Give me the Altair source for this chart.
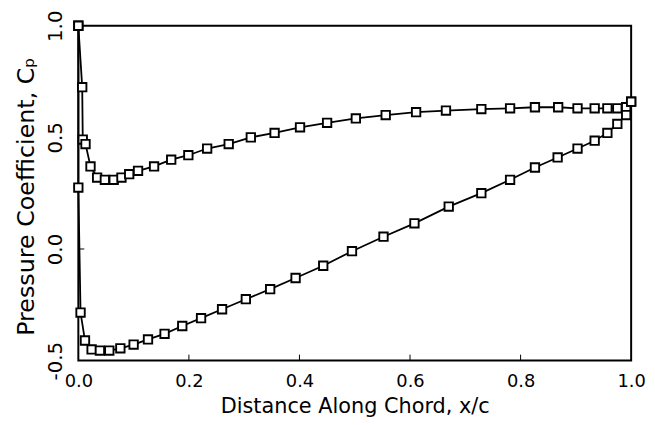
import altair as alt
import pandas as pd

# Upper curve (x/c, Cp)
upper_x = [0.0, 0.007, 0.008, 0.013, 0.022, 0.034, 0.048, 0.064, 0.078, 0.092, 0.108,
           0.137, 0.168, 0.199, 0.233, 0.272, 0.312, 0.355, 0.401, 0.450, 0.502,
           0.556, 0.611, 0.665, 0.729, 0.781, 0.826, 0.868, 0.903, 0.934, 0.957,
           0.975, 0.991, 1.0]
upper_cp = [1.0, 0.725, 0.49, 0.47, 0.37, 0.32, 0.31, 0.31, 0.32, 0.335, 0.35,
            0.37, 0.40, 0.42, 0.45, 0.47, 0.50, 0.52, 0.545, 0.565, 0.585,
            0.60, 0.613, 0.62, 0.627, 0.63, 0.635, 0.635, 0.63, 0.63, 0.63,
            0.63, 0.635, 0.66]

# Lower curve (x/c, Cp)
lower_x = [0.0, 0.0, 0.004, 0.012, 0.024, 0.039, 0.056, 0.076, 0.100, 0.126, 0.156,
           0.188, 0.222, 0.260, 0.303, 0.347, 0.393, 0.443, 0.495, 0.552, 0.608,
           0.670, 0.729, 0.781, 0.826, 0.867, 0.903, 0.934, 0.957, 0.975, 0.991, 1.0]
lower_cp = [1.0, 0.275, -0.285, -0.41, -0.45, -0.455, -0.455, -0.445, -0.428, -0.405, -0.38,
            -0.345, -0.31, -0.27, -0.225, -0.18, -0.13, -0.075, -0.01, 0.055, 0.115,
            0.19, 0.25, 0.31, 0.365, 0.41, 0.45, 0.485, 0.52, 0.56, 0.60, 0.66]

x_tick_values = [0.0, 0.2, 0.4, 0.6, 0.8, 1.0]
y_tick_values = [-0.5, 0.0, 0.5, 1.0]
x_inner_ticks = [0.2, 0.4, 0.6, 0.8]
y_inner_ticks = [0.0, 0.5]

rows = []
for i, (x, c) in enumerate(zip(upper_x, upper_cp)):
    rows.append({"x": x, "cp": c, "surface": "upper", "idx": i})
for i, (x, c) in enumerate(zip(lower_x, lower_cp)):
    rows.append({"x": x, "cp": c, "surface": "lower", "idx": i})
df = pd.DataFrame(rows)

FONT = "DejaVu Sans"

xscale = alt.Scale(domain=[0, 1], nice=False, zero=False)
yscale = alt.Scale(domain=[-0.5, 1.0], nice=False, zero=False)

label_expr = "datum.value < 0 ? '-' + format(-datum.value, '.1f') : format(datum.value, '.1f')"

x_axis = alt.Axis(values=x_tick_values, labelExpr=label_expr, title="Distance Along Chord, x/c",
                  ticks=False, tickSize=0, domain=False, grid=False,
                  labelFont=FONT, labelFontSize=18, labelColor="black", labelPadding=12,
                  labelFlush=False, labelOverlap=False,
                  titleFont=FONT, titleFontSize=21, titleFontWeight="normal", titleColor="black",
                  titleY=52, titleBaseline="alphabetic")
y_axis = alt.Axis(values=y_tick_values, labelExpr=label_expr, title="Pressure Coefficient, Cₚ",
                  ticks=False, tickSize=0, domain=False, grid=False,
                  labelFont=FONT, labelFontSize=20, labelColor="black", labelPadding=17,
                  labelAngle=270, labelAlign="center", labelBaseline="alphabetic",
                  labelFlush=False, labelOverlap=False,
                  titleFont=FONT, titleFontSize=24, titleFontWeight="normal", titleColor="black",
                  titleAngle=270, titleX=-45, titleY=172, titleBaseline="alphabetic",
                  titleAlign="center")

base = alt.Chart(df)
lines = base.mark_line(color="black", strokeWidth=1.8).encode(
    x=alt.X("x:Q", scale=xscale, axis=x_axis),
    y=alt.Y("cp:Q", scale=yscale, axis=y_axis),
    detail="surface:N",
    order="idx:Q",
)
points = base.mark_point(shape="square", filled=True, fill="white", stroke="black",
                         strokeWidth=1.9, size=72, opacity=1).encode(
    x=alt.X("x:Q", scale=xscale),
    y=alt.Y("cp:Q", scale=yscale),
)

xt = alt.Chart(pd.DataFrame({"t": x_inner_ticks})).mark_rule(color="black", strokeWidth=1).encode(
    x=alt.X("t:Q", scale=xscale), y=alt.value(338), y2=alt.value(332))
yt = alt.Chart(pd.DataFrame({"t": y_inner_ticks})).mark_rule(color="black", strokeWidth=1).encode(
    y=alt.Y("t:Q", scale=yscale), x=alt.value(0), x2=alt.value(6))

chart = alt.layer(xt, yt, lines, points).properties(
    width=558, height=338,
    background="white",
    autosize=alt.AutoSizeParams(type="none"),
    padding={"left": 71, "top": 16, "right": 16, "bottom": 55},
).configure_view(stroke="black", strokeWidth=2)

chart.save("out.html", embed_options={"renderer": "svg", "actions": False})
